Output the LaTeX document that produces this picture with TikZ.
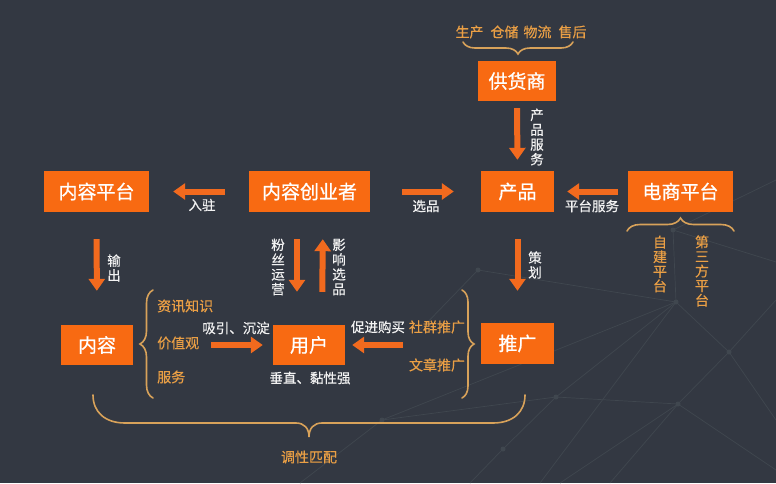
\documentclass[tikz,border=0pt]{standalone}
\usepackage{fontspec}
\setmainfont[FakeBold=0.4]{Noto Sans CJK SC}
\newfontfamily\boxfont[FakeBold=0.8]{Noto Sans CJK SC}
\usetikzlibrary{arrows.meta,decorations.pathreplacing}
\definecolor{bg}{HTML}{333842}
\definecolor{boxor}{HTML}{F86A12}
\definecolor{arr}{HTML}{F26A1E}
\definecolor{gold}{HTML}{D8A25A}
\definecolor{goldtxt}{HTML}{EA9F45}
\definecolor{wtxt}{HTML}{F2F2F2}
\definecolor{net}{HTML}{40474F}
\begin{document}
\begin{tikzpicture}[x=1pt,y=-1pt,
  box/.style={fill=boxor,text=white,font=\boxfont\fontsize{19}{21}\selectfont,minimum width=#1,minimum height=41pt,inner sep=0pt},
  arrowline/.style={draw=arr,line width=6pt,-{Triangle[length=12pt,width=16pt]}},
  lbl/.style={text=wtxt,font=\fontsize{13.5}{15}\selectfont,inner sep=0pt},
  glbl/.style={text=goldtxt,font=\fontsize{14}{15}\selectfont,inner sep=0pt},
  vtxt/.style={align=center,text=wtxt,font=\fontsize{13.5}{14.8}\selectfont,inner sep=0pt},
  gvtxt/.style={align=center,text=goldtxt,font=\fontsize{14}{14.6}\selectfont,inner sep=0pt},
  bracepath/.style={draw=gold,line width=1.6pt,line cap=round,decorate,decoration={brace,amplitude=#1}},
  netline/.style={draw=net,line width=0.7pt}
]
\fill[bg] (0,0) rectangle (776,483);
\useasboundingbox (0,0) rectangle (776,483);

% faint background network
\coordinate (n1) at (673,230);
\coordinate (n2) at (676,302);
\coordinate (n3) at (729,352);
\coordinate (n4) at (678,404);
\coordinate (n5) at (556,397);
\coordinate (n6) at (503,449);
\coordinate (n7) at (478,270);
\coordinate (n8) at (382,420);
\path[netline] (n7) -- (n2) -- (n3) -- (776,300);
\path[netline] (n3) -- (776,420);
\path[netline] (n3) -- (n4) -- (n5) -- (n2);
\path[netline] (n4) -- (776,470);
\path[netline] (n4) -- (610,483);
\path[netline] (n4) -- (560,483);
\path[netline] (n6) -- (n5);
\path[netline] (n6) -- (470,483);
\path[netline] (n2) -- (540,483);
\path[netline] (n2) -- (n1) -- (776,180);
\path[netline] (n1) -- (776,262);
\path[netline] (n8) -- (n5);
\path[netline] (n8) -- (n2);
\path[netline] (n8) -- (300,483);
\path[netline] (n7) -- (420,330);
\foreach \p in {n1,n2,n3,n4,n5,n6,n7,n8} \fill[net] (\p) circle (2.5pt);

% boxes
\node[box=78pt,minimum height=40pt] (ghs) at (517,81) {供货商};
\node[box=105pt] (nrpt) at (96.5,191.5) {内容平台};
\node[box=121pt] (cyz) at (309.5,191.5) {内容创业者};
\node[box=73pt] (cp) at (517.5,191.5) {产品};
\node[box=105pt] (dspt) at (680.5,191.5) {电商平台};
\node[box=72pt,minimum height=40pt] (nr) at (97,345) {内容};
\node[box=72pt,minimum height=40pt] (yh) at (309,345) {用户};
\node[box=73pt] (tg) at (517.5,343.5) {推广};

% arrows
\draw[arrowline,shorten <=7pt,shorten >=11pt] (ghs.south) -- (cp.north);
\draw[arrowline,shorten <=24pt,shorten >=24pt] (cyz.west) -- (nrpt.east);
\draw[arrowline,shorten <=32pt,shorten >=27pt] (cyz.east) -- (cp.west);
\draw[arrowline,shorten <=10pt,shorten >=13pt] (dspt.west) -- (cp.east);
\draw[arrowline,shorten <=27pt,shorten >=34pt] (nrpt.south) -- (nr.north);
\draw[arrowline,shorten <=27pt,shorten >=32pt] (cp.south) -- (tg.north);
\draw[arrowline,shorten <=27pt,shorten >=33pt] ([xshift=-12.5pt]cyz.south) -- ([xshift=-12pt]yh.north);
\draw[arrowline,shorten <=33pt,shorten >=27pt] ([xshift=13pt]yh.north) -- ([xshift=13.5pt]cyz.south);
\draw[arrowline,shorten <=78pt,shorten >=10pt] (nr.east) -- (yh.west);
\draw[arrowline,shorten <=78pt,shorten >=7pt] (tg.west |- yh.east) -- (yh.east);

% white labels
\node[vtxt] (l1) at (537,137) {产\\品\\服\\务};
\node[lbl] (l2) at (202,205) {入驻};
\node[lbl] (l3) at (426,206) {选品};
\node[lbl] (l4) at (592,206) {平台服务};
\node[vtxt] (l5) at (114,268) {输\\出};
\node[vtxt] (l6) at (278,267) {粉\\丝\\运\\营};
\node[vtxt] (l7) at (339,267) {影\\响\\选\\品};
\node[vtxt] (l8) at (535,265) {策\\划};
\node[lbl] (l9) at (236,328) {吸引、沉淀};
\node[lbl] (l10) at (378,327) {促进购买};
\node[lbl] (l11) at (310,378) {垂直、黏性强};

% gold labels
\node[glbl] (g1) at (521,32) {生产\hspace{7pt}仓储\hspace{5pt}物流\hspace{7pt}售后};
\node[gvtxt] (g2) at (660,264) {自\\建\\平\\台};
\node[gvtxt] (g3) at (702,271) {第\\三\\方\\平\\台};
\node[glbl,anchor=west] (g4) at (157,306) {资讯知识};
\node[glbl,anchor=west] (g5) at (157,343) {价值观};
\node[glbl,anchor=west] (g6) at (157,377) {服务};
\node[glbl] (g7) at (437,327) {社群推广};
\node[glbl] (g8) at (437,365) {文章推广};
\node[glbl] (g9) at (309,457) {调性匹配};

% braces
\draw[bracepath=12pt] (573,42) -- (463,42);
\draw[bracepath=13pt] (627,231) -- (734,231);
\draw[bracepath=13pt] (153,398) -- (153,290);
\draw[bracepath=12pt] (462,290) -- (462,398);
\draw[draw=gold,line width=1.6pt,line cap=round]
  (93,395) .. controls (93,412) and (105,423) .. (125,423) -- (296,423)
  .. controls (304,423) and (309,428) .. (309,437)
  .. controls (309,428) and (314,423) .. (322,423) -- (493,423)
  .. controls (513,423) and (525,412) .. (525,395);
\end{tikzpicture}
\end{document}
